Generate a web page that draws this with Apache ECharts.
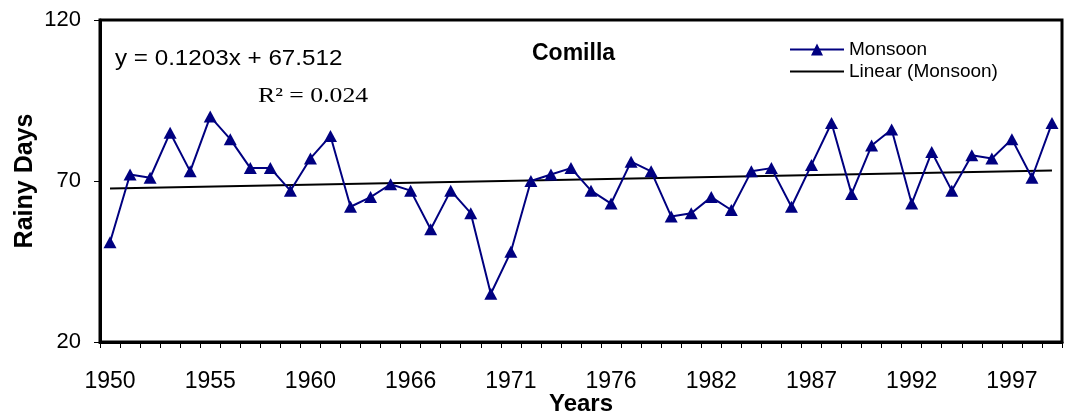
<!DOCTYPE html>
<html>
<head>
<meta charset="utf-8">
<title>Comilla monsoon rainy days</title>
<script src="https://cdn.jsdelivr.net/npm/echarts@6/dist/echarts.min.js"></script>
<style>
  html, body { margin: 0; padding: 0; background: #fff; }
  #chart { width: 1066px; height: 417px; }
</style>
</head>
<body>
<div id="chart"></div>
<script>
// Monsoon rainy days at Comilla, one value per recorded year
const years = [
  '1950','1951','1952','1953','1954','1955','1956','1957','1958','1959',
  '1960','1962','1963','1964','1965','1966','1967','1968','1969','1970',
  '1971','1972','1973','1974','1975','1976','1978','1979','1980','1981',
  '1982','1983','1984','1985','1986','1987','1988','1989','1990','1991',
  '1992','1993','1994','1995','1996','1997','1998','1999'
];
const monsoon = [
  51, 72, 71, 85, 73, 90, 83, 74, 74, 67,
  77, 84, 62, 65, 69, 67, 55, 67, 60, 35,
  48, 70, 72, 74, 67, 63, 76, 73, 59, 60,
  65, 61, 73, 74, 62, 75, 88, 66, 81, 86,
  63, 79, 67, 78, 77, 83, 71, 88
];
const yTicks = [20, 70, 120];

// Fitted linear trend as given by its equation (x = 1 .. n)
const trendSlope = 0.1203;
const trendIntercept = 67.512;
const equationText = 'y = 0.1203x + 67.512';
const rSquaredText = 'R\u00B2 = 0.024';

// Trend drawn as a straight segment between its two end points
const trend = years.map(() => null);
trend[0] = +(trendSlope * 1 + trendIntercept).toFixed(4);
trend[years.length - 1] = +(trendSlope * years.length + trendIntercept).toFixed(4);

const chart = echarts.init(document.getElementById('chart'), null, { renderer: 'canvas' });

const option = {
  backgroundColor: '#ffffff',
  animation: false,
  textStyle: { fontFamily: 'Liberation Sans, Arial, sans-serif', color: '#000' },
  title: {
    text: 'Comilla',
    left: 527,
    top: 37,
    textStyle: { fontSize: 23, fontWeight: 'bold', color: '#000', fontFamily: 'Liberation Sans, Arial, sans-serif' }
  },
  legend: {
    left: 784,
    top: 35,
    orient: 'vertical',
    itemWidth: 54,
    itemHeight: 15,
    itemGap: 3,
    textStyle: { fontSize: 19, color: '#000', fontFamily: 'Liberation Sans, Arial, sans-serif' },
    data: [
      { name: 'Monsoon' },
      { name: 'Linear (Monsoon)', itemStyle: { opacity: 0 } }
    ]
  },
  grid: {
    left: 100,
    right: 4,
    top: 20,
    bottom: 75,
    show: true,
    borderColor: '#000',
    borderWidth: 3,
    containLabel: false,
    outerBoundsMode: 'none'
  },
  xAxis: {
    type: 'category',
    data: years,
    boundaryGap: true,
    name: 'Years',
    nameLocation: 'middle',
    nameGap: 50,
    nameMoveOverlap: false,
    nameTextStyle: { fontSize: 24, fontWeight: 'bold', color: '#000' },
    axisLine: { lineStyle: { color: '#000', width: 3 } },
    axisTick: { show: true, interval: 0, length: 6, lineStyle: { color: '#000', width: 1 } },
    axisLabel: { interval: 4, fontSize: 23, color: '#000', margin: 28 },
    splitLine: { show: false }
  },
  yAxis: {
    type: 'value',
    min: yTicks[0],
    max: yTicks[yTicks.length - 1],
    interval: yTicks[1] - yTicks[0],
    name: 'Rainy Days',
    nameLocation: 'middle',
    nameGap: 62,
    nameMoveOverlap: false,
    nameTextStyle: { fontSize: 25, fontWeight: 'bold', color: '#000' },
    axisLine: { show: true, lineStyle: { color: '#000', width: 3 } },
    axisTick: { show: true, length: 6, lineStyle: { color: '#000', width: 1 } },
    axisLabel: { fontSize: 22, color: '#000', margin: 19 },
    splitLine: { show: false }
  },
  graphic: [
    {
      type: 'text',
      left: 115,
      top: 48,
      scaleX: 1.1,
      style: {
        text: equationText,
        fontSize: 22,
        fontFamily: 'Liberation Sans, Arial, sans-serif',
        fill: '#000'
      }
    },
    {
      type: 'text',
      left: 258,
      top: 85,
      scaleX: 1.17,
      style: {
        text: rSquaredText,
        fontSize: 22,
        fontFamily: 'Liberation Serif, Times New Roman, serif',
        fill: '#000'
      }
    }
  ],
  series: [
    {
      name: 'Monsoon',
      type: 'line',
      data: monsoon,
      symbol: 'triangle',
      symbolSize: [13, 12],
      showAllSymbol: true,
      color: '#000080',
      lineStyle: { color: '#000080', width: 2 },
      itemStyle: { color: '#000080' },
      z: 3
    },
    {
      name: 'Linear (Monsoon)',
      type: 'line',
      data: trend,
      connectNulls: true,
      symbol: 'none',
      color: '#000',
      lineStyle: { color: '#000', width: 2 },
      z: 2
    }
  ]
};

chart.setOption(option);
</script>
</body>
</html>
